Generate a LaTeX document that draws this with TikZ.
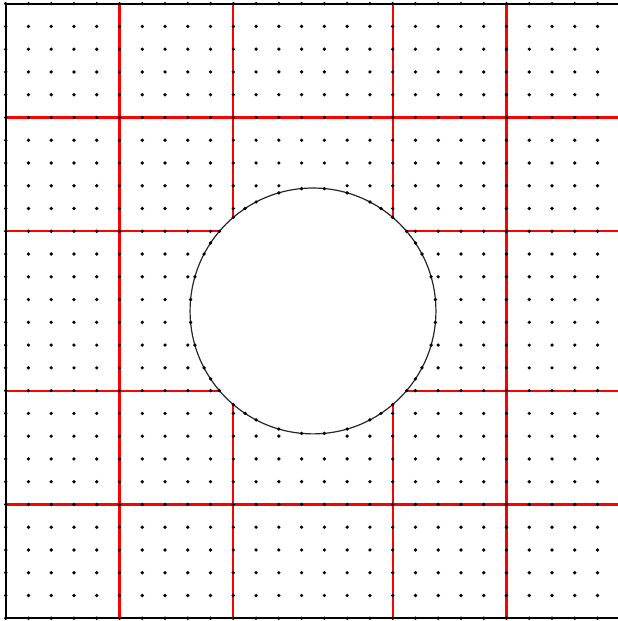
\documentclass[tikz,border=0pt]{standalone}
\usepackage{tikz}
\usetikzlibrary{calc}

\tikzset{
  blockline/.style={draw=red,line width=1.4pt},
  gridpoint/.style={fill=black}
}

\begin{document}
\begin{tikzpicture}[x=0.5cm,y=0.5cm]
  % Define the mesh size, the hole and the dot radius
  \def\n{27}
  \def\radius{5.4}
  \def\dotr{1.15pt}
  \coordinate (C) at (13.5,13.5);

  \useasboundingbox (-0.25,-0.12) rectangle (26.86,27.16);

  % Draw the block lines
  \foreach \k in {5,10,17,22} {
    \draw[blockline] (\k,0) -- (\k,\n);
    \draw[blockline] (0,\k) -- (\n,\k);
  }

  % Draw the hole
  \filldraw[fill=white,draw=black!85,line width=0.75pt] (C) circle (\radius);

  % Draw the outer boundary
  \draw[line width=1.3pt] (0,0) rectangle (\n,\n);

  % Draw the grid points outside the hole
  \foreach \i in {0,...,27} {
    \foreach \j in {0,...,27} {
      \pgfmathsetmacro\dist{sqrt((\i-13.5)^2+(\j-13.5)^2)}
      \ifdim\dist pt>5.6pt
        \path[gridpoint] (\i,\j) circle (\dotr);
      \fi
    }
  }

  % Draw the points where the grid lines cut the hole
  \foreach \k in {9,...,18} {
    \pgfmathsetmacro\h{sqrt(\radius^2-(\k-13.5)^2)}
    \path[gridpoint] ($(C)+(\k-13.5,\h)$) circle (\dotr);
    \path[gridpoint] ($(C)+(\k-13.5,-\h)$) circle (\dotr);
    \path[gridpoint] ($(C)+(\h,\k-13.5)$) circle (\dotr);
    \path[gridpoint] ($(C)+(-\h,\k-13.5)$) circle (\dotr);
  }

\end{tikzpicture}
\end{document}
